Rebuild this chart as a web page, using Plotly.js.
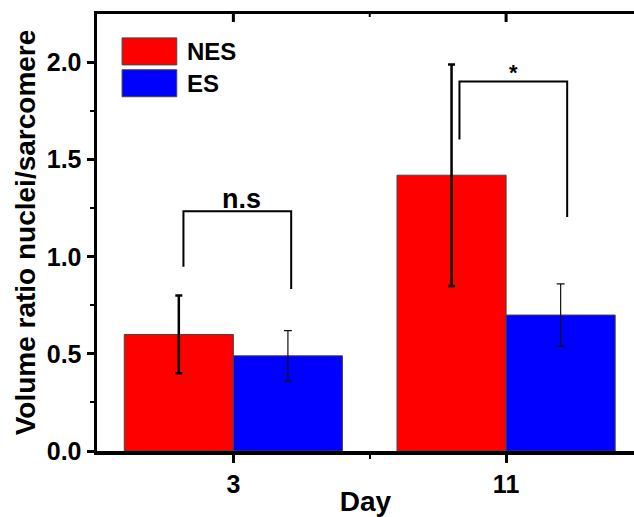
<!DOCTYPE html>
<html>
<head>
<meta charset="utf-8">
<script src="https://cdn.plot.ly/plotly-3.0.1.min.js"></script>
<style>html,body{margin:0;padding:0;background:#fff;}#chart{width:634px;height:517px;}</style>
</head>
<body>
<div id="chart"></div>
<script>
// ---- data ----
const days = ["3", "11"];
const nesValues = [0.60, 1.42];
const nesErrors = [0.20, 0.57];
const esValues = [0.49, 0.70];
const esErrors = [0.13, 0.16];
const seriesNames = ["NES", "ES"];
const sigLabels = ["n.s", "*"];

const xIdx = days.map((d, i) => i);
const FONT = "Liberation Sans, Arial, Helvetica, sans-serif";

const traces = [
  {
    type: "bar", name: seriesNames[0], x: xIdx, y: nesValues,
    marker: {color: "#FF0000", line: {color: "#444", width: 1}},
    error_y: {type: "data", array: nesErrors, visible: true, color: "#000", thickness: 2.5, width: 3.5},
    showlegend: false
  },
  {
    type: "bar", name: seriesNames[1], x: xIdx, y: esValues,
    marker: {color: "#0000FF", line: {color: "#444", width: 1}},
    error_y: {type: "data", array: esErrors, visible: true, color: "#111", thickness: 1.2, width: 4},
    showlegend: false
  }
];

// significance brackets (layout positions)
function bracket(xl, xr, ytop, ylb, yrb) {
  return {type: "path", xref: "x", yref: "y",
    path: `M ${xl} ${ylb} L ${xl} ${ytop} L ${xr} ${ytop} L ${xr} ${yrb}`,
    line: {color: "#000", width: 2}};
}
const shapes = [
  bracket(-0.183, 0.212, 1.234, 0.949, 0.834),
  bracket(0.829, 1.224, 1.903, 1.604, 1.205),
  // legend swatches
  {type: "rect", xref: "x", yref: "y", x0: -0.408, x1: -0.2076, y0: 1.988, y1: 2.127,
   fillcolor: "#FF0000", line: {color: "#444", width: 1}},
  {type: "rect", xref: "x", yref: "y", x0: -0.408, x1: -0.2076, y0: 1.824, y1: 1.963,
   fillcolor: "#0000FF", line: {color: "#444", width: 1}}
];
// inward ticks on top axis
[[0, 8], [1, 8], [0.5, 3]].forEach(([xv, len]) => {
  shapes.push({type: "line", xref: "x", yref: "paper", x0: xv, x1: xv, y0: 1, y1: 1 - len / 438,
    line: {color: "#000", width: len > 4 ? 3 : 2}});
});

const annotations = [
  {xref: "x", yref: "y", x: 0.031, y: 1.30, text: sigLabels[0], showarrow: false,
   font: {family: FONT, size: 27, color: "#000", weight: "bold"}, xanchor: "center", yanchor: "middle"},
  {xref: "x", yref: "y", x: 1.027, y: 1.95, text: sigLabels[1], showarrow: false,
   font: {family: FONT, size: 22, color: "#000", weight: "bold"}, xanchor: "center", yanchor: "middle"},
  {xref: "x", yref: "y", x: -0.177, y: 2.058, text: seriesNames[0], showarrow: false,
   font: {family: FONT, size: 24, color: "#000", weight: "bold"}, xanchor: "left", yanchor: "middle"},
  {xref: "x", yref: "y", x: -0.177, y: 1.893, text: seriesNames[1], showarrow: false,
   font: {family: FONT, size: 24, color: "#000", weight: "bold"}, xanchor: "left", yanchor: "middle"}
];

const layout = {
  width: 634, height: 517,
  margin: {l: 97, r: 0, t: 14, b: 66, pad: 0},
  paper_bgcolor: "#fff", plot_bgcolor: "#fff",
  barmode: "group", bargap: 0.2, bargroupgap: 0,
  font: {family: FONT, color: "#000"},
  xaxis: {
    range: [-0.5, 1.469], tickvals: xIdx, ticktext: days,
    showline: true, linewidth: 3.5, linecolor: "#000", mirror: true,
    ticks: "outside", ticklen: 8, tickwidth: 3, tickcolor: "#000",
    minor: {tickvals: [0.5], ticks: "outside", ticklen: 4, tickwidth: 2, tickcolor: "#000"},
    showgrid: false, zeroline: false,
    tickfont: {family: FONT, size: 25, color: "#000", weight: "bold"},
    title: {text: "Day", font: {family: FONT, size: 28, color: "#000", weight: "bold"}, standoff: 0}
  },
  yaxis: {
    range: [0, 2.25], tickvals: [0, 0.5, 1.0, 1.5, 2.0], ticktext: ["0.0", "0.5", "1.0", "1.5", "2.0"],
    showline: true, linewidth: 3.5, linecolor: "#000", mirror: false,
    ticks: "outside", ticklen: 7, tickwidth: 3, tickcolor: "#000",
    minor: {tickvals: [0.25, 0.75, 1.25, 1.75], ticks: "outside", ticklen: 4, tickwidth: 2, tickcolor: "#000"},
    showgrid: false, zeroline: false,
    tickfont: {family: FONT, size: 25, color: "#000", weight: "bold"},
    title: {text: "Volume ratio nuclei/sarcomere", font: {family: FONT, size: 28, color: "#000", weight: "bold"}, standoff: 4}
  },
  shapes: shapes,
  annotations: annotations
};

Plotly.newPlot("chart", traces, layout, {displayModeBar: false, staticPlot: true});
</script>
</body>
</html>
